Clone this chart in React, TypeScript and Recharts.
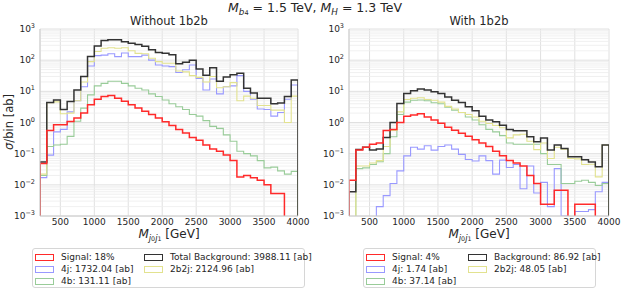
import React from "react";
import { LineChart, Line, XAxis, YAxis, CartesianGrid, ReferenceLine } from "recharts";

// bin edges in GeV (100 GeV bins from 200 to 4000)
const EDGES = [
  200, 300, 400, 500, 600, 700, 800, 900, 1000, 1100, 1200, 1300, 1400, 1500, 1600, 1700, 1800, 1900, 2000,
  2100, 2200, 2300, 2400, 2500, 2600, 2700, 2800, 2900, 3000, 3100, 3200, 3300, 3400, 3500, 3600, 3700,
  3800, 3900, 4000,
];
const X_TICKS = [500, 1000, 1500, 2000, 2500, 3000, 3500, 4000];
const Y_TICKS = [0.001, 0.01, 0.1, 1, 10, 100, 1000];
const Y_EXP = ["\u22123", "\u22122", "\u22121", "0", "1", "2", "3"];
const MANTISSA = [2, 3, 4, 5, 6, 7, 8, 9];
const DECADES = [0.001, 0.01, 0.1, 1, 10, 100];

// ---- Without 1b2b (sigma per bin, ab) ----
const sigL = [0.048, 0.55, 0.85, 0.85, 1.07, 1.4, 2.0, 3.7, 5.6, 6.8, 7.3, 6.0, 4.8, 3.7, 2.9, 2.3, 1.8, 1.4, 1.05, 0.8,
  0.6, 0.46, 0.33, 0.27, 0.19, 0.14, 0.12, 0.09, 0.06, 0.018, 0.02, 0.017, 0.014, 0.01, 0.0053, 0.0053, 0, 0];
const bkgL = [0.054, 4.4, 5.3, 2.6, 4.7, 11, 30, 130, 285, 430, 450, 450, 390, 350, 320, 280, 215, 175, 166, 148,
  77, 85, 100, 52, 33, 57, 21, 29, 34, 38, 12.6, 8.8, 6, 6, 4, 4.2, 6.8, 23];
const j4L = [0.017, 0.09, 0.5, 0.6, 2.2, 5, 14, 65, 140, 145, 160, 130, 170, 130, 130, 145, 100, 70, 65, 62,
  40, 49, 70, 26, 11, 25, 8.3, 14, 15, 32, 10, 5.6, 2.7, 2.6, 1.6, 2.1, 5.6, 16];
const bbL = [0.022, 4.3, 4.6, 1.9, 2.0, 5, 20, 90, 190, 240, 250, 240, 250, 200, 165, 160, 115, 90, 80, 80,
  45, 42, 32, 28, 20, 30, 13, 14, 19, 5, 7, 6, 3.5, 3.5, 2.5, 2.5, 1.0, 7];
const b4L = [0.02, 0.17, 0.19, 0.2, 0.36, 1.1, 2.9, 7.7, 15, 18, 21, 21, 18, 15, 12.6, 11, 8.3, 6.8, 5.3, 4,
  3.2, 2.6, 1.8, 1.6, 1.15, 0.75, 0.65, 0.4, 0.25, 0.12, 0.1, 0.085, 0.06, 0.035, 0.037, 0.028, 0.022, 0.027];

// ---- With 1b2b ----
const sigR = [0.014, 0.13, 0.16, 0.2, 0.22, 0.55, 0.6, 1.0, 1.6, 1.75, 1.9, 1.5, 1.2, 0.95, 0.7, 0.56, 0.45, 0.36, 0.28, 0.22,
  0.17, 0.12, 0.085, 0.06, 0.05, 0.04, 0.02, 0.011, 0.0024, 0.0024, 0.0067, 0.0067, 0, 0.0024, 0.0024, 0.0024, 0, 0];
const bkgR = [0.006, 0.135, 0.16, 0.13, 0.14, 0.33, 1.0, 4.1, 8.5, 10.4, 11.8, 11, 9.7, 8.5, 6.6, 5.2, 4.4, 3.2, 2.4, 1.6,
  1.2, 1.05, 0.82, 0.6, 0.54, 0.54, 0.35, 0.24, 0.32, 0.13, 0.19, 0.146, 0.08, 0.08, 0.064, 0.054, 0.038, 0.19];
const j4R = [0, 0, 0, 0, 0.002, 0.0045, 0.011, 0.028, 0.085, 0.16, 0.14, 0.18, 0.13, 0.17, 0.19, 0.14, 0.095, 0.065, 0.058, 0.085,
  0.06, 0.022, 0.062, 0.036, 0.045, 0.0075, 0.04, 0.0055, 0.012, 0.002, 0.033, 0.001, 0, 0.0014, 0.0014, 0.0016, 0.006, 0.012];
const bbR = [0, 0.04, 0.04, 0.05, 0.06, 0.17, 0.56, 2.2, 5.5, 6.0, 6.2, 5.5, 5.2, 4.5, 3.3, 2.7, 2.1, 1.8, 1.5, 1.1,
  0.93, 0.8, 0.68, 0.32, 0.4, 0.42, 0.25, 0.135, 0.22, 0.07, 0.16, 0.14, 0.07, 0.068, 0.045, 0.046, 0.018, 0.19];
const b4R = [0, 0.033, 0.035, 0.045, 0.055, 0.1, 0.35, 1.8, 4.5, 5.2, 5.3, 5.0, 4.3, 4.0, 3.1, 2.5, 2.1, 1.5, 1.2, 0.85,
  0.6, 0.5, 0.38, 0.22, 0.2, 0.2, 0.2, 0.2, 0.1, 0.045, 0.045, 0.011, 0.011, 0.013, 0.014, 0.012, 0.0095, 0.011];

const FLOOR = 1e-7; // empty bins fall below the axis

const COLORS = {
  sig: "#ff2a2a",
  bkg: "#333333",
  j4: "#9999ff",
  bb: "#e2e28f",
  b4: "#99cc99",
};

// step histogram rows: start at the floor, one row per bin edge, back to the floor at the end
function buildRows(series: Record<string, number[]>) {
  const keys = Object.keys(series);
  const rows: any[] = [];
  const first: any = { x: EDGES[0] };
  keys.forEach((k) => (first[k] = FLOOR));
  rows.push(first);
  for (let i = 0; i < EDGES.length; i++) {
    const r: any = { x: EDGES[i] };
    const idx = Math.min(i, EDGES.length - 2);
    keys.forEach((k) => (r[k] = series[k][idx] > 0 ? series[k][idx] : FLOOR));
    rows.push(r);
  }
  const end: any = { x: EDGES[EDGES.length - 1] };
  keys.forEach((k) => (end[k] = FLOOR));
  rows.push(end);
  return rows;
}

const rowsL = buildRows({ j4: j4L, b4: b4L, bb: bbL, bkg: bkgL, sig: sigL });
const rowsR = buildRows({ j4: j4R, b4: b4R, bb: bbR, bkg: bkgR, sig: sigR });

const MINOR: number[] = [];
DECADES.forEach((d) => MANTISSA.forEach((m) => MINOR.push(d * m)));

const LogTick = (props: any) => {
  const { x, y, payload } = props;
  const i = Y_TICKS.indexOf(payload.value);
  return (
    <text x={x} y={y} dy="0.35em" textAnchor="end" fontSize={9} fill="#262626">
      10<tspan dy={-4} fontSize={6.5}>{Y_EXP[i]}</tspan>
    </text>
  );
};

const Panel = ({ rows, left, width, yWidth }: { rows: any[]; left: number; width: number; yWidth: number }) => (
  <div style={{ position: "absolute", left, top: 0 }}>
    <LineChart width={width} height={245} data={rows} margin={{ top: 29, right: 12, bottom: 0, left: 0 }}>
      {MINOR.map((v) => (
        <ReferenceLine key={v} y={v} stroke="#ececec" strokeWidth={0.8} />
      ))}
      <CartesianGrid stroke="#dddddd" strokeWidth={0.9} />
      <XAxis
        dataKey="x"
        type="number"
        domain={[200, 4000]}
        ticks={X_TICKS}
        interval={0}
        allowDataOverflow
        height={29}
        tickLine={false}
        tickSize={2}
        tickMargin={1}
        stroke="#cccccc"
        tick={{ fontSize: 9, fill: "#262626" }}
      />
      <YAxis
        type="number"
        scale="log"
        domain={[0.001, 1000]}
        ticks={Y_TICKS}
        interval={0}
        allowDataOverflow
        width={yWidth}
        tickLine={false}
        tickSize={3}
        tickMargin={2}
        stroke="#cccccc"
        tick={(p: any) => <LogTick {...p} />}
      />
      <Line type="stepAfter" dataKey="j4" stroke={COLORS.j4} strokeWidth={1.1} dot={false} activeDot={false} isAnimationActive={false} />
      <Line type="stepAfter" dataKey="b4" stroke={COLORS.b4} strokeWidth={1.1} dot={false} activeDot={false} isAnimationActive={false} />
      <Line type="stepAfter" dataKey="bb" stroke={COLORS.bb} strokeWidth={1.1} dot={false} activeDot={false} isAnimationActive={false} />
      <Line type="stepAfter" dataKey="bkg" stroke={COLORS.bkg} strokeWidth={1.5} dot={false} activeDot={false} isAnimationActive={false} />
      <Line type="stepAfter" dataKey="sig" stroke={COLORS.sig} strokeWidth={1.5} dot={false} activeDot={false} isAnimationActive={false} />
    </LineChart>
  </div>
);

const sub = { fontSize: "0.7em", verticalAlign: "-0.3em" } as const;

const XLabel = ({ cx }: { cx: number }) => (
  <div style={{ position: "absolute", left: cx, top: 227, transform: "translateX(-50%)", fontSize: 12, whiteSpace: "nowrap" }}>
    <i>M</i>
    <span style={sub}>
      <i>j</i>
      <span style={{ fontSize: "0.75em" }}>0</span>
      <i>j</i>
      <span style={{ fontSize: "0.75em" }}>1</span>
    </span>{" "}
    [GeV]
  </div>
);

const Legend = ({ left, width, col2, items }: { left: number; width: number; col2: number; items: { c: string; t: string; col: number; row: number }[] }) => (
  <div
    style={{
      position: "absolute",
      left,
      top: 248,
      width,
      height: 40,
      border: "1px solid #d6d6d6",
      borderRadius: 3,
      boxSizing: "border-box",
      fontSize: 9,
      color: "#262626",
    }}
  >
    {items.map((it) => (
      <div key={it.t} style={{ position: "absolute", left: it.col === 0 ? 2 : col2, top: 2 + it.row * 12, height: 12, display: "flex", alignItems: "center", whiteSpace: "nowrap" }}>
        <span style={{ display: "inline-block", width: 17, height: 5, border: `1.5px solid ${it.c}`, marginRight: 7 }} />
        {it.t}
      </div>
    ))}
  </div>
);

export default function App() {
  return (
    <div style={{ position: "absolute", left: 0, top: 0, width: 623, height: 292, background: "#fff", fontFamily: "'DejaVu Sans', sans-serif", color: "#262626" }}>
      <div style={{ position: "absolute", left: 315, top: 0, transform: "translateX(-50%)", fontSize: 12.5, whiteSpace: "nowrap" }}>
        <i>M</i>
        <span style={sub}>
          <i>b</i>
          <span style={{ fontSize: "0.75em" }}>4</span>
        </span>{" "}
        = 1.5 TeV, <i>M</i>
        <span style={sub}>
          <i>H</i>
        </span>{" "}
        = 1.3 TeV
      </div>
      <div style={{ position: "absolute", left: 169, top: 14, transform: "translateX(-50%)", fontSize: 11.5, whiteSpace: "nowrap" }}>Without 1b2b</div>
      <div style={{ position: "absolute", left: 479, top: 14, transform: "translateX(-50%)", fontSize: 11.5, whiteSpace: "nowrap" }}>With 1b2b</div>
      <div
        style={{
          position: "absolute",
          left: 9,
          top: 122,
          transform: "translate(-50%, -50%) rotate(-90deg)",
          fontSize: 11.5,
          whiteSpace: "nowrap",
        }}
      >
        <i>σ</i>/bin [ab]
      </div>
      <Panel rows={rowsL} left={0} width={310} yWidth={40} />
      <Panel rows={rowsR} left={310} width={311} yWidth={39} />
      <XLabel cx={169} />
      <XLabel cx={479} />
      <Legend
        left={32}
        width={273}
        col2={111}
        items={[
          { c: COLORS.sig, t: "Signal: 18%", col: 0, row: 0 },
          { c: COLORS.j4, t: "4j: 1732.04 [ab]", col: 0, row: 1 },
          { c: COLORS.b4, t: "4b: 131.11 [ab]", col: 0, row: 2 },
          { c: COLORS.bkg, t: "Total Background: 3988.11 [ab]", col: 1, row: 0 },
          { c: COLORS.bb, t: "2b2j: 2124.96 [ab]", col: 1, row: 1 },
        ]}
      />
      <Legend
        left={363}
        width={233}
        col2={104}
        items={[
          { c: COLORS.sig, t: "Signal: 4%", col: 0, row: 0 },
          { c: COLORS.j4, t: "4j: 1.74 [ab]", col: 0, row: 1 },
          { c: COLORS.b4, t: "4b: 37.14 [ab]", col: 0, row: 2 },
          { c: COLORS.bkg, t: "Background: 86.92 [ab]", col: 1, row: 0 },
          { c: COLORS.bb, t: "2b2j: 48.05 [ab]", col: 1, row: 1 },
        ]}
      />
    </div>
  );
}
